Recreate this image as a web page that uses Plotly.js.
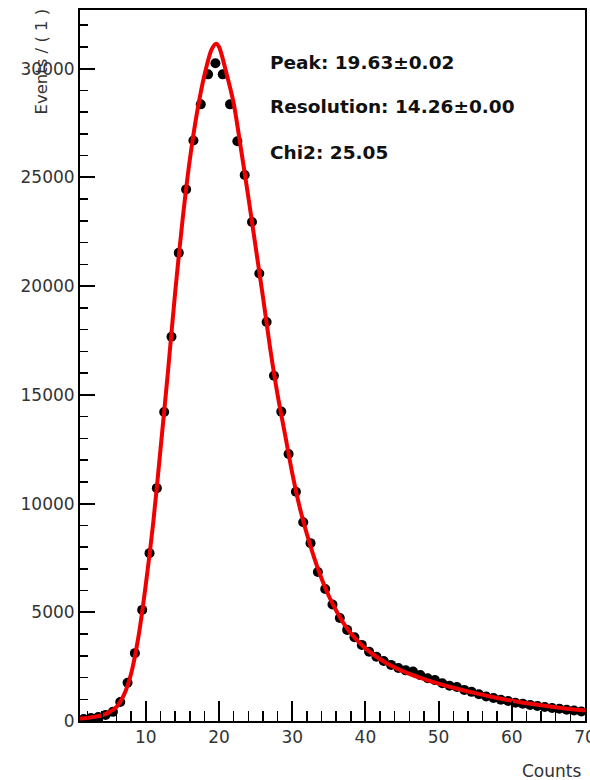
<!DOCTYPE html>
<html>
<head>
<meta charset="utf-8">
<script src="https://cdn.plot.ly/plotly-3.0.1.min.js"></script>
<style>html,body{margin:0;padding:0;background:#fff;overflow:hidden;}#chart{width:590px;height:780px;}</style>
</head>
<body>
<div id="chart"></div>
<script>
// Histogram bin centres (Counts) and entries
const binCenters = [1.5,2.5,3.5,4.5,5.5,6.5,7.5,8.5,9.5,10.5,11.5,12.5,13.5,14.5,15.5,16.5,17.5,18.5,19.5,20.5,
  21.5,22.5,23.5,24.5,25.5,26.5,27.5,28.5,29.5,30.5,31.5,32.5,33.5,34.5,35.5,36.5,37.5,38.5,39.5,40.5,
  41.5,42.5,43.5,44.5,45.5,46.5,47.5,48.5,49.5,50.5,51.5,52.5,53.5,54.5,55.5,56.5,57.5,58.5,59.5,60.5,
  61.5,62.5,63.5,64.5,65.5,66.5,67.5,68.5,69.5];
const events = [90,140,180,280,420,870,1760,3120,5110,7720,10710,14210,17670,21530,24450,26700,28360,29740,30250,29740,
  28360,26660,25110,22950,20580,18350,15880,14230,12280,10540,9140,8180,6850,6070,5360,4740,4190,3850,3500,3190,
  2960,2760,2580,2440,2330,2280,2110,1970,1880,1740,1620,1560,1430,1340,1230,1130,1060,980,920,840,
  790,740,690,640,600,560,520,480,440];

// Fitted curve
const fitX = [1,2,3,4,5,6,7,8,9,10,11,12,13,14,15,16,17,18,19,19.6,20,21,22,23,24,25,26,27,28,29,30,31,32,33,34,35,36,37,38,39,40,42,44,46,48,50,52,55,58,61,64,67,70];
const fitY = [110,140,190,260,400,650,1200,2200,3900,6300,9100,12500,16000,19700,23000,25800,28000,29700,30900,31150,31000,29800,28400,26300,24100,21800,19500,17100,15000,13200,11400,9850,8600,7500,6550,5750,5080,4500,4040,3660,3340,2840,2460,2170,1930,1720,1530,1280,1060,870,720,590,480];

// Axis ticks
const xTickVals = [10,20,30,40,50,60,70];
const yTickVals = [0,5000,10000,15000,20000,25000,30000];

// Fit results text
const statLines = ["Peak: 19.63\u00b10.02", "Resolution: 14.26\u00b10.00", "Chi2: 25.05"];
const statY = [30290, 28270, 26150];

const tickFont = {family: "DejaVu Sans, Arial, sans-serif", size: 17, color: "#333"};

const traces = [
  {x: binCenters, y: events, type: "scatter", mode: "markers",
   marker: {color: "#000", size: 10, line: {width: 0}}, hoverinfo: "x+y"},
  {x: fitX, y: fitY, type: "scatter", mode: "lines",
   line: {color: "#f00000", width: 4, shape: "spline", smoothing: 0.8}, hoverinfo: "x+y"}
];

const annotations = statLines.map((t, i) => ({
  text: "<b>" + t + "</b>", x: 26.7, y: statY[i], xref: "x", yref: "y",
  xanchor: "left", yanchor: "middle", showarrow: false,
  font: {family: "DejaVu Sans, Arial, sans-serif", size: 18.5, color: "#111"}
}));
annotations.push({
  text: "Events / ( 1 )", textangle: -90, x: -0.076, y: 0.927, xref: "paper", yref: "paper",
  xanchor: "center", yanchor: "middle", showarrow: false,
  font: {family: "DejaVu Sans, Arial, sans-serif", size: 16.5, color: "#333"}
});
annotations.push({
  text: "Counts", x: 0.996, y: -0.0705, xref: "paper", yref: "paper",
  xanchor: "right", yanchor: "middle", showarrow: false,
  font: {family: "DejaVu Sans, Arial, sans-serif", size: 17, color: "#333"}
});

const layout = {
  width: 590, height: 780,
  margin: {l: 80, r: 5, t: 10, b: 59, pad: 0},
  paper_bgcolor: "#fff", plot_bgcolor: "#fff",
  showlegend: false,
  xaxis: {
    range: [1, 70], tickmode: "array", tickvals: xTickVals, ticktext: xTickVals.map(String),
    ticks: "inside", ticklen: 20, tickwidth: 2, tickcolor: "#000",
    minor: {dtick: 2, tick0: 0, ticks: "inside", ticklen: 10, tickwidth: 1.5, tickcolor: "#000", showgrid: false},
    showline: true, linecolor: "#000", linewidth: 2, mirror: true,
    showgrid: false, zeroline: false, tickfont: tickFont, automargin: false,
    ticklabeloverflow: "allow"
  },
  yaxis: {
    range: [0, 32700], tickmode: "array", tickvals: yTickVals, ticktext: yTickVals.map(String),
    ticks: "inside", ticklen: 15, tickwidth: 2, tickcolor: "#000",
    minor: {dtick: 1000, tick0: 0, ticks: "inside", ticklen: 8, tickwidth: 1.5, tickcolor: "#000", showgrid: false},
    showline: true, linecolor: "#000", linewidth: 2, mirror: true,
    showgrid: false, zeroline: false, tickfont: tickFont, automargin: false,
    ticklabeloverflow: "allow"
  },
  annotations: annotations
};

Plotly.newPlot("chart", traces, layout, {displayModeBar: false, staticPlot: true});
</script>
</body>
</html>
